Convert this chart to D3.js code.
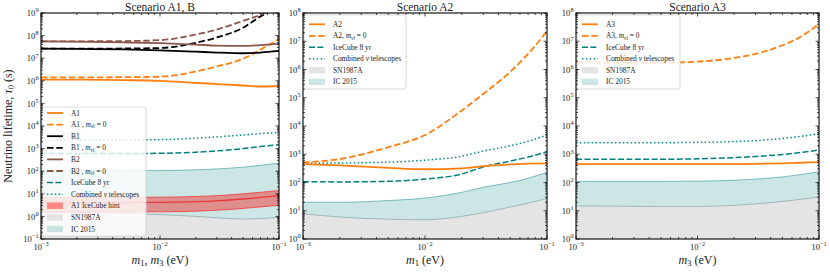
<!DOCTYPE html>
<html lang="en">
<head>
<meta charset="UTF-8">
<title>Neutrino lifetime</title>
<style>
  body { margin: 0; background: #fff; }
  svg text { font-family: 'Liberation Serif', 'DejaVu Serif', serif; fill: #222; }
</style>
</head>
<body>
<svg id="svg" width="830" height="272"></svg>
<script src="https://d3js.org/d3.v7.min.js"></script>
<script>
// lightest neutrino mass (eV), shared by every curve
const masses = [0.001, 0.002, 0.005, 0.01, 0.02, 0.03, 0.05, 0.07, 0.1]

// Scenario A1, B  (lifetimes in s)
const a1       = [1.12e6, 1.12e6, 1.07e6, 1.0e6, 8.1e5, 7.2e5, 6.2e5, 5.6e5, 5.9e5]
const a1Zero   = [1.41e6, 1.41e6, 1.45e6, 1.51e6, 2.6e6, 4.3e6, 9.5e6, 2.4e7, 7.1e7]
const b1       = [2.63e7, 2.57e7, 2.45e7, 2.24e7, 1.95e7, 1.78e7, 1.66e7, 1.78e7, 2.09e7]
const b1Zero   = [2.63e7, 2.63e7, 2.69e7, 2.82e7, 4.8e7, 8.3e7, 2.24e8, 7.1e8, 1.78e9]
const b2       = [5.5e7, 5.4e7, 5.0e7, 4.6e7, 4.0e7, 3.6e7, 3.5e7, 3.8e7, 4.4e7]
const b2Zero   = [5.6e7, 5.6e7, 5.75e7, 6.3e7, 1.12e8, 1.86e8, 4.5e8, 8.3e8, 2.0e9]
const ic8yrA1  = [620, 600, 600, 620, 690, 790, 1000, 1230, 1480]
const combA1   = [2400, 2400, 2450, 2500, 2900, 3300, 4000, 4600, 5200]
const ic2015A1 = [105, 105, 105, 107, 115, 126, 151, 182, 229]
const snA1     = [1.58, 1.48, 1.35, 1.2, 1.0, 0.87, 0.76, 0.79, 0.91]
const hintMid  = [4.07, 4.07, 4.07, 4.17, 4.47, 4.9, 5.9, 6.9, 8.3]
const hintHigh = [6.9, 6.9, 6.9, 7.1, 7.6, 8.3, 10.0, 11.7, 14.1]
const hintLow  = [1.55, 1.55, 1.55, 1.59, 1.7, 1.86, 2.24, 2.63, 3.1]

// Scenario A2
const a2       = [447, 407, 331, 295, 316, 380, 437, 468, 479]
const a2Zero   = [513, 676, 1780, 4790, 3.55e4, 1.35e5, 8.3e5, 3.55e6, 2.29e7]
const ic8yrA2  = [107, 105, 110, 132, 200, 355, 575, 794, 1230]
const combA2   = [479, 490, 525, 617, 851, 1290, 2000, 2880, 4790]
const ic2015A2 = [20, 20, 23, 28, 45, 68, 100, 141, 229]
const snA2     = [7.8, 6.0, 5.0, 4.8, 6.3, 8.5, 13.5, 18.6, 26.9]

// Scenario A3
const a3       = [447, 447, 447, 447, 447, 457, 479, 501, 525]
const a3Zero   = [1.86e6, 1.74e6, 1.74e6, 1.9e6, 2.57e6, 3.55e6, 7.2e6, 1.41e7, 4.1e7]
const ic8yrA3  = [660, 660, 660, 690, 760, 830, 980, 1150, 1410]
const combA3   = [2570, 2570, 2570, 2630, 2820, 3020, 3630, 4270, 5370]
const ic2015A3 = [110, 110, 110, 112, 120, 132, 158, 190, 240]
const snA3     = [14.8, 14.5, 14.1, 14.1, 15.5, 17.4, 21.4, 25.1, 30.9]

const xTicks = [1e-3, 1e-2, 1e-1]

const ORANGE = '#ff7f0e', BROWN = '#8c564b', TEAL = '#008080', DOT = '#008b8b'
const styles = {
  solid:  {w: 1.8, dash: null},
  dashed: {w: 1.8, dash: '6.5,2.8'},
  icdash: {w: 1.5, dash: '6,2.4'},
  dotted: {w: 1.5, dash: '1.5,2.4'}
}

// rich text pieces: [text, kind] with kind '' | 'i' | 'sub'
const mZero = name => [[name + ' , ', ''], ['m', 'i'], ['νl', 'sub'], [' = 0', '']]
const mZero2 = name => [[name + ',  ', ''], ['m', 'i'], ['νl', 'sub'], [' = 0', '']]
const combined = [['Combined ', ''], ['ν', 'i'], [' telescopes', '']]

const panels = [
  {
    title: 'Scenario A1, B', left: 41, right: 279, ymin: 1e-1, ymax: 1e9,
    xlabel: [['m', 'i'], ['1', 'sub'], [', ', ''], ['m', 'i'], ['3', 'sub'], [' (eV)', '']],
    sn: snA1, ic: ic2015A1, hint: [hintLow, hintMid, hintHigh],
    lines: [
      {v: ic8yrA1, c: TEAL, s: 'icdash'}, {v: combA1, c: DOT, s: 'dotted'},
      {v: a1, c: ORANGE, s: 'solid'}, {v: a1Zero, c: ORANGE, s: 'dashed'},
      {v: b1, c: '#000', s: 'solid'}, {v: b1Zero, c: '#000', s: 'dashed'},
      {v: b2, c: BROWN, s: 'solid'}, {v: b2Zero, c: BROWN, s: 'dashed'}
    ],
    legend: {x: 42, y: 107, w: 104, h: 129, first: 113, step: 11.6, items: [
      {t: [['A1', '']], c: ORANGE, s: 'solid'},
      {t: mZero('A1'), c: ORANGE, s: 'dashed'},
      {t: [['B1', '']], c: '#000', s: 'solid'},
      {t: mZero('B1'), c: '#000', s: 'dashed'},
      {t: [['B2', '']], c: BROWN, s: 'solid'},
      {t: mZero('B2'), c: BROWN, s: 'dashed'},
      {t: [['IceCube 8 yr', '']], c: TEAL, s: 'icdash'},
      {t: combined, c: DOT, s: 'dotted'},
      {t: [['A1 IceCube hint', '']], patch: 'hint'},
      {t: [['SN1987A', '']], patch: 'sn'},
      {t: [['IC 2015', '']], patch: 'ic'}
    ]}
  },
  {
    title: 'Scenario A2', left: 303, right: 547, ymin: 1, ymax: 1e8,
    xlabel: [['m', 'i'], ['1', 'sub'], [' (eV)', '']],
    sn: snA2, ic: ic2015A2, hint: null,
    lines: [
      {v: ic8yrA2, c: TEAL, s: 'icdash'}, {v: combA2, c: DOT, s: 'dotted'},
      {v: a2, c: ORANGE, s: 'solid'}, {v: a2Zero, c: ORANGE, s: 'dashed'}
    ],
    legend: {x: 304, y: 15, w: 102, h: 74, first: 24.3, step: 11.5, items: [
      {t: [['A2', '']], c: ORANGE, s: 'solid'},
      {t: mZero2('A2'), c: ORANGE, s: 'dashed'},
      {t: [['IceCube 8 yr', '']], c: TEAL, s: 'icdash'},
      {t: combined, c: DOT, s: 'dotted'},
      {t: [['SN1987A', '']], patch: 'sn'},
      {t: [['IC 2015', '']], patch: 'ic'}
    ]}
  },
  {
    title: 'Scenario A3', left: 576, right: 819, ymin: 1, ymax: 1e8,
    xlabel: [['m', 'i'], ['3', 'sub'], [' (eV)', '']],
    sn: snA3, ic: ic2015A3, hint: null,
    lines: [
      {v: ic8yrA3, c: TEAL, s: 'icdash'}, {v: combA3, c: DOT, s: 'dotted'},
      {v: a3, c: ORANGE, s: 'solid'}, {v: a3Zero, c: ORANGE, s: 'dashed'}
    ],
    legend: {x: 577, y: 15, w: 103, h: 74, first: 24.3, step: 11.5, items: [
      {t: [['A3', '']], c: ORANGE, s: 'solid'},
      {t: mZero2('A3'), c: ORANGE, s: 'dashed'},
      {t: [['IceCube 8 yr', '']], c: TEAL, s: 'icdash'},
      {t: combined, c: DOT, s: 'dotted'},
      {t: [['SN1987A', '']], patch: 'sn'},
      {t: [['IC 2015', '']], patch: 'ic'}
    ]}
  }
]

const TOP = 13, BOTTOM = 239
const svg = d3.select('#svg')

function powLabel(sel, e) {
  sel.text('10')
  sel.append('tspan').attr('dy', -3.8).style('font-size', '6.2px')
    .text(e < 0 ? '\u2212' + (-e) : e)
}

function richText(sel, parts) {
  let low = false
  parts.forEach(([txt, kind]) => {
    const ts = sel.append('tspan').text(txt)
    if (kind === 'i') ts.style('font-style', 'italic')
    if (kind === 'sub') {
      ts.attr('dy', '0.22em').style('font-size', '0.72em')
      low = true
    } else if (low) {
      ts.attr('dy', '-0.16em')
      low = false
    }
  })
}

panels.forEach((p, pi) => {
  const x = d3.scaleLog().domain([1e-3, 1e-1]).range([p.left, p.right])
  const y = d3.scaleLog().domain([p.ymin, p.ymax]).range([BOTTOM, TOP])
  const g = svg.append('g')

  const clipId = 'clip' + pi
  svg.append('clipPath').attr('id', clipId).append('rect')
    .attr('x', p.left).attr('y', TOP).attr('width', p.right - p.left).attr('height', BOTTOM - TOP)
  const plot = g.append('g').attr('clip-path', `url(#${clipId})`)

  const line = d3.line().x((d, i) => x(masses[i])).y(d => y(d)).curve(d3.curveMonotoneX)
  const band = (lo, hi) => d3.area().x((d, i) => x(masses[i]))
    .y0((d, i) => lo ? y(lo[i]) : BOTTOM).y1((d, i) => y(hi[i])).curve(d3.curveMonotoneX)(masses)

  // SN1987A excluded region
  plot.append('path').attr('d', band(null, p.sn)).attr('fill', '#e4e4e4')
  plot.append('path').attr('d', line(p.sn)).attr('fill', 'none').attr('stroke', '#9aa8a8').attr('stroke-width', 0.7)
  // IC 2015
  plot.append('path').attr('d', band(p.sn, p.ic)).attr('fill', TEAL).attr('fill-opacity', 0.2)
  plot.append('path').attr('d', line(p.ic)).attr('fill', 'none').attr('stroke', TEAL).attr('stroke-opacity', 0.6).attr('stroke-width', 0.8)

  if (p.hint) {
    const [lo, mid, hi] = p.hint
    plot.append('path').attr('d', band(lo, hi)).attr('fill', 'red').attr('fill-opacity', 0.38)
    ;[lo, hi].forEach(v => plot.append('path').attr('d', line(v)).attr('fill', 'none')
      .attr('stroke', 'red').attr('stroke-opacity', 0.7).attr('stroke-width', 0.8))
    plot.append('path').attr('d', line(mid)).attr('fill', 'none').attr('stroke', '#e8383a').attr('stroke-width', 1.3)
  }

  p.lines.forEach(l => {
    const st = styles[l.s]
    plot.append('path').attr('d', line(l.v)).attr('fill', 'none')
      .attr('stroke', l.c).attr('stroke-width', st.w)
      .attr('stroke-dasharray', st.dash)
  })

  // legend
  const L = p.legend
  const lg = g.append('g')
  lg.append('rect').attr('x', L.x).attr('y', L.y).attr('width', L.w).attr('height', L.h)
    .attr('rx', 2).attr('fill', '#fff').attr('fill-opacity', 0.8)
    .attr('stroke', '#d0d0d0').attr('stroke-width', 0.8)
  L.items.forEach((it, i) => {
    const yy = L.first + i * L.step
    const x0 = L.x + 5, x1 = L.x + 21
    if (it.patch) {
      const r = lg.append('rect').attr('x', x0).attr('y', yy - 3.2).attr('width', x1 - x0).attr('height', 6.4)
      if (it.patch === 'sn') r.attr('fill', '#e4e4e4')
      if (it.patch === 'ic') r.attr('fill', TEAL).attr('fill-opacity', 0.2)
      if (it.patch === 'hint') r.attr('fill', 'red').attr('fill-opacity', 0.42)
    } else {
      const st = styles[it.s]
      lg.append('line').attr('x1', x0).attr('x2', x1).attr('y1', yy).attr('y2', yy)
        .attr('stroke', it.c).attr('stroke-width', st.w).attr('stroke-dasharray', st.dash)
    }
    const t = lg.append('text').attr('x', L.x + 29).attr('y', yy + 2.6).style('font-size', '7.4px')
    richText(t, it.t)
  })

  // frame
  g.append('rect').attr('x', p.left).attr('y', TOP).attr('width', p.right - p.left).attr('height', BOTTOM - TOP)
    .attr('fill', 'none').attr('stroke', '#000').attr('stroke-width', 1.1)

  // ticks, pointing inwards on all four sides
  const ticks = g.append('g').attr('stroke', '#000').attr('stroke-width', 0.7)
  const e0 = Math.round(Math.log10(p.ymin)), e1 = Math.round(Math.log10(p.ymax))
  for (let e = e0; e <= e1; e++) {
    for (let m = 1; m <= 9; m++) {
      const v = m * Math.pow(10, e)
      if (v > p.ymax) break
      const len = m === 1 ? 3.5 : 2
      const yy = y(v)
      ticks.append('line').attr('x1', p.left).attr('x2', p.left + len).attr('y1', yy).attr('y2', yy)
      ticks.append('line').attr('x1', p.right).attr('x2', p.right - len).attr('y1', yy).attr('y2', yy)
    }
    const t = g.append('text').attr('x', p.left - 2.5).attr('y', y(Math.pow(10, e)) + 3.2)
      .attr('text-anchor', 'end').style('font-size', '8.6px')
    powLabel(t, e)
  }
  for (let e = -3; e <= -1; e++) {
    for (let m = 1; m <= 9; m++) {
      const v = m * Math.pow(10, e)
      if (v > 0.1 + 1e-9) break
      const len = m === 1 ? 3.5 : 2
      const xx = x(v)
      ticks.append('line').attr('x1', xx).attr('x2', xx).attr('y1', BOTTOM).attr('y2', BOTTOM - len)
      ticks.append('line').attr('x1', xx).attr('x2', xx).attr('y1', TOP).attr('y2', TOP + len)
    }
  }
  xTicks.forEach(v => {
    const t = g.append('text').attr('x', x(v)).attr('y', BOTTOM + 11)
      .attr('text-anchor', 'middle').style('font-size', '8.6px')
    powLabel(t, Math.round(Math.log10(v)))
  })

  // title and axis label
  g.append('text').attr('x', (p.left + p.right) / 2).attr('y', 10.5)
    .attr('text-anchor', 'middle').style('font-size', '11.5px').text(p.title)
  const xl = g.append('text').attr('x', (p.left + p.right) / 2).attr('y', 264)
    .attr('text-anchor', 'middle').style('font-size', '12px')
  richText(xl, p.xlabel)
})

// y axis label
const yl = svg.append('text').attr('transform', `translate(12,${(TOP + BOTTOM) / 2}) rotate(-90)`)
  .attr('text-anchor', 'middle').style('font-size', '12px')
richText(yl, [['Neutrino lifetime, ', ''], ['τ', 'i'], ['0', 'sub'], [' (s)', '']])
</script>
</body>
</html>
